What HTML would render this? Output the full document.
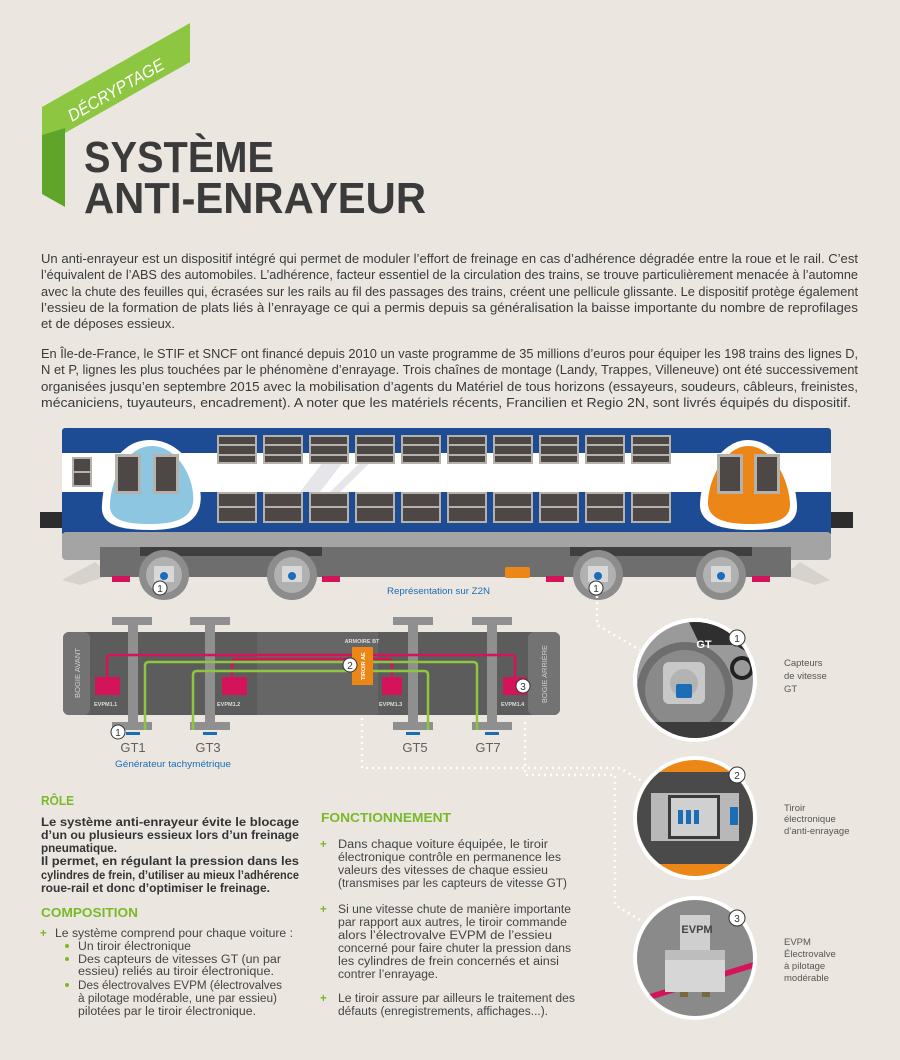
<!DOCTYPE html>
<html><head><meta charset="utf-8"><style>
html,body{margin:0;padding:0;background:#ebe7e0;}
svg{display:block;font-family:"Liberation Sans",sans-serif;}
</style></head><body>
<svg width="900" height="1060" viewBox="0 0 900 1060" xmlns="http://www.w3.org/2000/svg">
<rect width="900" height="1060" fill="#ebe7e0"/>
<polygon points="42,107 190,23 190,62 65,133 65,145 42,145" fill="#8dc641"/>
<polygon points="42,135 65,128 65,207 42,194" fill="#5fa52a"/>
<text x="0" y="0" transform="translate(72,122) rotate(-30)" font-size="17" font-style="italic" fill="#fff" textLength="108" lengthAdjust="spacingAndGlyphs">DÉCRYPTAGE</text>
<text x="84" y="172" font-size="44" font-weight="bold" fill="#3b3b3b" textLength="190" lengthAdjust="spacingAndGlyphs">SYSTÈME</text>
<text x="84" y="213" font-size="44" font-weight="bold" fill="#3b3b3b" textLength="342" lengthAdjust="spacingAndGlyphs">ANTI-ENRAYEUR</text>

<g font-size="13" fill="#3a3a3a">
<text x="41" y="263" textLength="817" lengthAdjust="spacingAndGlyphs">Un anti-enrayeur est un dispositif intégré qui permet de moduler l’effort de freinage en cas d’adhérence dégradée entre la roue et le rail. C’est</text>
<text x="41" y="279" textLength="817" lengthAdjust="spacingAndGlyphs">l’équivalent de l’ABS des automobiles. L’adhérence, facteur essentiel de la circulation des trains, se trouve particulièrement menacée à l’automne</text>
<text x="41" y="296" textLength="817" lengthAdjust="spacingAndGlyphs">avec la chute des feuilles qui, écrasées sur les rails au fil des passages des trains, créent une pellicule glissante. Le dispositif protège également</text>
<text x="41" y="312" textLength="817" lengthAdjust="spacingAndGlyphs">l’essieu de la formation de plats liés à l’enrayage ce qui a permis depuis sa généralisation la baisse importante du nombre de reprofilages</text>
<text x="41" y="328" textLength="134" lengthAdjust="spacingAndGlyphs">et de déposes essieux.</text>
<text x="41" y="358" textLength="817" lengthAdjust="spacingAndGlyphs">En Île-de-France, le STIF et SNCF ont financé depuis 2010 un vaste programme de 35 millions d’euros pour équiper les 198 trains des lignes D,</text>
<text x="41" y="374" textLength="817" lengthAdjust="spacingAndGlyphs">N et P, lignes les plus touchées par le phénomène d’enrayage. Trois chaînes de montage (Landy, Trappes, Villeneuve) ont été successivement</text>
<text x="41" y="391" textLength="817" lengthAdjust="spacingAndGlyphs">organisées jusqu’en septembre 2015 avec la mobilisation d’agents du Matériel de tous horizons (essayeurs, soudeurs, câbleurs, freinistes,</text>
<text x="41" y="407" textLength="810" lengthAdjust="spacingAndGlyphs">mécaniciens, tuyauteurs, encadrement). A noter que les matériels récents, Francilien et Regio 2N, sont livrés équipés du dispositif.</text>
</g>

<g>
<polygon points="62,580 95,562 110,575 80,585" fill="#d6d3ce"/>
<polygon points="830,580 800,562 785,575 815,585" fill="#d6d3ce"/>
<rect x="40" y="512" width="24" height="16" fill="#2d2d2d"/>
<rect x="829" y="512" width="24" height="16" fill="#2d2d2d"/>
<rect x="62" y="428" width="769" height="108" rx="3" fill="#1d4b94"/>
<rect x="62" y="453" width="769" height="39" fill="#ffffff"/>
<polygon points="300,492 330,453 350,453 320,492" fill="#e6e6ea"/>
<polygon points="330,492 370,453 380,453 340,492" fill="#e6e6ea"/>
<rect x="62" y="532" width="769" height="28" rx="4" fill="#a4a4a4"/>
<rect x="100" y="547" width="691" height="30" fill="#6e6e6e"/>
<rect x="140" y="547" width="182" height="9" fill="#3f3f3f"/>
<rect x="570" y="547" width="182" height="9" fill="#3f3f3f"/>
<rect x="72" y="457" width="20" height="30" fill="#b5b1ab"/>
<rect x="74" y="459" width="16" height="12" fill="#4d4845"/><rect x="74" y="473" width="16" height="12" fill="#4d4845"/>
<g fill="#b5b1ab">
<rect x="217" y="435" width="40" height="29"/><rect x="263" y="435" width="40" height="29"/><rect x="309" y="435" width="40" height="29"/><rect x="355" y="435" width="40" height="29"/><rect x="401" y="435" width="40" height="29"/><rect x="447" y="435" width="40" height="29"/><rect x="493" y="435" width="40" height="29"/><rect x="539" y="435" width="40" height="29"/><rect x="585" y="435" width="40" height="29"/><rect x="631" y="435" width="40" height="29"/>
<rect x="217" y="492" width="40" height="31"/><rect x="263" y="492" width="40" height="31"/><rect x="309" y="492" width="40" height="31"/><rect x="355" y="492" width="40" height="31"/><rect x="401" y="492" width="40" height="31"/><rect x="447" y="492" width="40" height="31"/><rect x="493" y="492" width="40" height="31"/><rect x="539" y="492" width="40" height="31"/><rect x="585" y="492" width="40" height="31"/><rect x="631" y="492" width="40" height="31"/>
</g>
<g fill="#4d4845">
<rect x="219" y="437" width="36" height="7"/><rect x="219" y="446" width="36" height="8"/><rect x="219" y="456" width="36" height="6"/>
<rect x="265" y="437" width="36" height="7"/><rect x="265" y="446" width="36" height="8"/><rect x="265" y="456" width="36" height="6"/>
<rect x="311" y="437" width="36" height="7"/><rect x="311" y="446" width="36" height="8"/><rect x="311" y="456" width="36" height="6"/>
<rect x="357" y="437" width="36" height="7"/><rect x="357" y="446" width="36" height="8"/><rect x="357" y="456" width="36" height="6"/>
<rect x="403" y="437" width="36" height="7"/><rect x="403" y="446" width="36" height="8"/><rect x="403" y="456" width="36" height="6"/>
<rect x="449" y="437" width="36" height="7"/><rect x="449" y="446" width="36" height="8"/><rect x="449" y="456" width="36" height="6"/>
<rect x="495" y="437" width="36" height="7"/><rect x="495" y="446" width="36" height="8"/><rect x="495" y="456" width="36" height="6"/>
<rect x="541" y="437" width="36" height="7"/><rect x="541" y="446" width="36" height="8"/><rect x="541" y="456" width="36" height="6"/>
<rect x="587" y="437" width="36" height="7"/><rect x="587" y="446" width="36" height="8"/><rect x="587" y="456" width="36" height="6"/>
<rect x="633" y="437" width="36" height="7"/><rect x="633" y="446" width="36" height="8"/><rect x="633" y="456" width="36" height="6"/>
<rect x="219" y="494" width="36" height="12"/><rect x="219" y="508" width="36" height="13"/>
<rect x="265" y="494" width="36" height="12"/><rect x="265" y="508" width="36" height="13"/>
<rect x="311" y="494" width="36" height="12"/><rect x="311" y="508" width="36" height="13"/>
<rect x="357" y="494" width="36" height="12"/><rect x="357" y="508" width="36" height="13"/>
<rect x="403" y="494" width="36" height="12"/><rect x="403" y="508" width="36" height="13"/>
<rect x="449" y="494" width="36" height="12"/><rect x="449" y="508" width="36" height="13"/>
<rect x="495" y="494" width="36" height="12"/><rect x="495" y="508" width="36" height="13"/>
<rect x="541" y="494" width="36" height="12"/><rect x="541" y="508" width="36" height="13"/>
<rect x="587" y="494" width="36" height="12"/><rect x="587" y="508" width="36" height="13"/>
<rect x="633" y="494" width="36" height="12"/><rect x="633" y="508" width="36" height="13"/>
</g>
<path d="M150,440 C185,440 205,480 200,505 C196,525 175,530 150,530 C120,530 100,525 102,505 C104,470 120,440 150,440Z" fill="#fff"/>
<path d="M152,446 C178,446 196,480 193,503 C190,520 172,524 150,524 C125,524 108,520 110,503 C112,475 128,446 152,446Z" fill="#8cc6e0"/>
<path d="M748,440 C775,440 795,470 797,505 C798,525 780,530 750,530 C725,530 700,525 700,505 C700,478 720,440 748,440Z" fill="#fff"/>
<path d="M748,446 C770,446 788,475 790,503 C791,520 775,524 750,524 C728,524 708,520 708,503 C708,480 725,446 748,446Z" fill="#ec8616"/>
<g fill="#b5b1ab"><rect x="115" y="454" width="26" height="40"/><rect x="153" y="454" width="26" height="40"/><rect x="717" y="454" width="26" height="40"/><rect x="754" y="454" width="26" height="40"/></g>
<g fill="#4d4845"><rect x="118" y="457" width="20" height="34"/><rect x="156" y="457" width="20" height="34"/><rect x="720" y="457" width="20" height="34"/><rect x="757" y="457" width="20" height="34"/></g>
<g>
<circle cx="164" cy="575" r="25" fill="#8c8c8c"/><circle cx="164" cy="575" r="18" fill="#b1b1b1"/><rect x="154" y="566" width="20" height="16" fill="#d8d8d8"/><circle cx="164" cy="576" r="4" fill="#1b6db5"/>
<circle cx="292" cy="575" r="25" fill="#8c8c8c"/><circle cx="292" cy="575" r="18" fill="#b1b1b1"/><rect x="282" y="566" width="20" height="16" fill="#d8d8d8"/><circle cx="292" cy="576" r="4" fill="#1b6db5"/>
<circle cx="598" cy="575" r="25" fill="#8c8c8c"/><circle cx="598" cy="575" r="18" fill="#b1b1b1"/><rect x="588" y="566" width="20" height="16" fill="#d8d8d8"/><circle cx="598" cy="576" r="4" fill="#1b6db5"/>
<circle cx="721" cy="575" r="25" fill="#8c8c8c"/><circle cx="721" cy="575" r="18" fill="#b1b1b1"/><rect x="711" y="566" width="20" height="16" fill="#d8d8d8"/><circle cx="721" cy="576" r="4" fill="#1b6db5"/>
</g>
<rect x="112" y="576" width="18" height="6" fill="#d4145a"/><rect x="322" y="576" width="18" height="6" fill="#d4145a"/>
<rect x="546" y="576" width="18" height="6" fill="#d4145a"/><rect x="752" y="576" width="18" height="6" fill="#d4145a"/>
<rect x="505" y="567" width="25" height="11" rx="2" fill="#ec8616"/>
<circle cx="160" cy="588" r="7" fill="#fff" stroke="#333" stroke-width="1"/><text x="160" y="592" font-size="10" text-anchor="middle" fill="#333">1</text>
<circle cx="596" cy="588" r="7" fill="#fff" stroke="#333" stroke-width="1"/><text x="596" y="592" font-size="10" text-anchor="middle" fill="#333">1</text>
<text x="387" y="594" font-size="9.5" fill="#1b6db5" textLength="103" lengthAdjust="spacingAndGlyphs">Représentation sur Z2N</text>
</g>

<g fill="none" stroke="#fff" stroke-width="2.5" stroke-dasharray="2,4">
<polyline points="597,596 597,625 640,650"/>
<polyline points="362,700 362,768 620,768 645,783"/>
<polyline points="525,722 525,775 615,775 615,905 640,920"/>
</g>

<g>
<rect x="63" y="632" width="497" height="83" rx="6" fill="#5c5c5c"/>
<rect x="63" y="632" width="27" height="83" rx="6" fill="#737373"/>
<rect x="528" y="632" width="32" height="83" rx="6" fill="#737373"/>
<rect x="257" y="632" width="121" height="83" fill="#666"/>
<text transform="translate(80,698) rotate(-90)" font-size="7.5" fill="#d0d0d0" textLength="50" lengthAdjust="spacingAndGlyphs">BOGIE AVANT</text>
<text transform="translate(547,703) rotate(-90)" font-size="7.5" fill="#d0d0d0" textLength="58" lengthAdjust="spacingAndGlyphs">BOGIE ARRIÈRE</text>
<g fill="#8f8f8f">
<rect x="128" y="617" width="10" height="113"/><rect x="205" y="617" width="10" height="113"/><rect x="408" y="617" width="10" height="113"/><rect x="487" y="617" width="10" height="113"/>
<rect x="112" y="617" width="40" height="8"/><rect x="112" y="722" width="40" height="8"/>
<rect x="190" y="617" width="40" height="8"/><rect x="190" y="722" width="40" height="8"/>
<rect x="393" y="617" width="40" height="8"/><rect x="393" y="722" width="40" height="8"/>
<rect x="472" y="617" width="40" height="8"/><rect x="472" y="722" width="40" height="8"/>
</g>
<g fill="#1b6db5"><rect x="126" y="732" width="14" height="3"/><rect x="203" y="732" width="14" height="3"/><rect x="406" y="732" width="14" height="3"/><rect x="485" y="732" width="14" height="3"/></g>
<g fill="none" stroke-width="2.5" stroke-linejoin="round">
<path d="M107,677 V659 Q107,655 111,655 H511 Q515,655 515,659 V677" stroke="#d4145a"/>
<path d="M232,677 V663 Q232,659 236,659 H388 Q392,659 392,663 V677" stroke="#d4145a"/>
<path d="M145,730 V666 Q145,662 149,662 H473 Q477,662 477,666 V730" stroke="#8dc63f"/>
<path d="M193,730 V675 Q193,671 197,671 H424 Q428,671 428,675 V730" stroke="#8dc63f"/>
</g>
<g fill="#d4145a"><rect x="95" y="677" width="25" height="18"/><rect x="222" y="677" width="25" height="18"/><rect x="382" y="677" width="20" height="18"/><rect x="503" y="677" width="24" height="18"/></g>
<g font-size="5.5" font-weight="bold" fill="#ddd"><text x="94" y="706">EVPM1.1</text><text x="217" y="706">EVPM1.2</text><text x="379" y="706">EVPM1.3</text><text x="501" y="706">EVPM1.4</text></g>
<rect x="352" y="647" width="21" height="38" fill="#ec8616"/>
<text transform="translate(365,680) rotate(-90)" font-size="5.5" font-weight="bold" fill="#fff">TIROIR AE</text>
<text x="362" y="643" font-size="5.5" font-weight="bold" fill="#ddd" text-anchor="middle">ARMOIRE BT</text>
<circle cx="350" cy="665" r="7" fill="#fff" stroke="#333"/><text x="350" y="669" font-size="10" text-anchor="middle" fill="#333">2</text>
<circle cx="523" cy="686" r="7" fill="#fff" stroke="#333"/><text x="523" y="690" font-size="10" text-anchor="middle" fill="#333">3</text>
<circle cx="118" cy="732" r="7" fill="#fff" stroke="#333"/><text x="118" y="736" font-size="10" text-anchor="middle" fill="#333">1</text>
<g font-size="13" fill="#606060" text-anchor="middle"><text x="133" y="752">GT1</text><text x="208" y="752">GT3</text><text x="415" y="752">GT5</text><text x="488" y="752">GT7</text></g>
<text x="115" y="767" font-size="9.5" fill="#1b6db5" textLength="116" lengthAdjust="spacingAndGlyphs">Générateur  tachymétrique</text>
</g>

<defs>
<clipPath id="c1"><circle cx="695" cy="680" r="58"/></clipPath>
<clipPath id="c2"><circle cx="695" cy="818" r="58"/></clipPath>
<clipPath id="c3"><circle cx="695" cy="958" r="58"/></clipPath>
</defs>
<circle cx="695" cy="680" r="62" fill="#fff"/>
<g clip-path="url(#c1)">
<rect x="630" y="620" width="130" height="120" fill="#9a9a9a"/>
<circle cx="685" cy="690" r="48" fill="#6e6e6e"/><circle cx="685" cy="690" r="40" fill="#8a8a8a"/>
<rect x="663" y="662" width="42" height="42" rx="6" fill="#c8c8c8"/><circle cx="684" cy="683" r="14" fill="#b3b3b3"/>
<rect x="676" y="684" width="16" height="14" rx="2" fill="#1b6db5"/>
<path d="M688,620 H760 V660 L735,645 H700 Z" fill="#2f2f2f"/>
<circle cx="742" cy="668" r="10" fill="none" stroke="#222" stroke-width="4"/>
<rect x="630" y="722" width="130" height="20" fill="#3c3c3c"/>
</g>
<text x="704" y="648" font-size="11" font-weight="bold" fill="#fff" text-anchor="middle">GT</text>
<circle cx="737" cy="638" r="8" fill="#fff" stroke="#333"/><text x="737" y="642" font-size="10" text-anchor="middle" fill="#333">1</text>

<circle cx="695" cy="818" r="62" fill="#fff"/>
<g clip-path="url(#c2)">
<rect x="630" y="755" width="130" height="130" fill="#ec8616"/>
<rect x="630" y="772" width="130" height="92" fill="#4a4a4a"/>
<rect x="651" y="793" width="88" height="48" fill="#b8b8b8"/>
<rect x="668" y="795" width="52" height="44" fill="#3a3a3a"/>
<rect x="671" y="798" width="46" height="38" fill="#d0d0d0"/>
<g fill="#1b6db5"><rect x="678" y="810" width="5" height="14"/><rect x="686" y="810" width="5" height="14"/><rect x="694" y="810" width="5" height="14"/><rect x="730" y="807" width="8" height="18"/></g>
</g>
<circle cx="737" cy="775" r="8" fill="#fff" stroke="#333"/><text x="737" y="779" font-size="10" text-anchor="middle" fill="#333">2</text>

<circle cx="695" cy="958" r="62" fill="#fff"/>
<g clip-path="url(#c3)">
<rect x="630" y="895" width="130" height="130" fill="#8a8a8a"/>
<polygon points="630,1000 760,960 760,966 630,1006" fill="#d4145a"/>
<rect x="700" y="915" width="10" height="20" fill="#d4145a"/>
<rect x="680" y="915" width="30" height="40" fill="#cfcfcf"/>
<rect x="665" y="960" width="60" height="32" fill="#d6d6d6"/>
<rect x="665" y="950" width="60" height="10" fill="#bdbdbd"/>
<rect x="680" y="992" width="8" height="5" fill="#7a6a3a"/><rect x="702" y="992" width="8" height="5" fill="#7a6a3a"/>
</g>
<text x="697" y="933" font-size="11" font-weight="bold" fill="#444" text-anchor="middle">EVPM</text>
<circle cx="737" cy="918" r="8" fill="#fff" stroke="#333"/><text x="737" y="922" font-size="10" text-anchor="middle" fill="#333">3</text>

<g font-size="9.5" fill="#555">
<text x="784" y="666">Capteurs</text><text x="784" y="679">de vitesse</text><text x="784" y="692">GT</text>
<text x="784" y="811">Tiroir</text><text x="784" y="822">électronique</text><text x="784" y="834">d’anti-enrayage</text>
<text x="784" y="945">EVPM</text><text x="784" y="957">Électrovalve</text><text x="784" y="969">à pilotage</text><text x="784" y="981">modérable</text>
</g>

<g font-weight="bold" fill="#7ab929" font-size="13">
<text x="41" y="805" textLength="33" lengthAdjust="spacingAndGlyphs">RÔLE</text>
<text x="41" y="917" textLength="97" lengthAdjust="spacingAndGlyphs">COMPOSITION</text>
<text x="321" y="822" textLength="130" lengthAdjust="spacingAndGlyphs">FONCTIONNEMENT</text>
</g>
<g font-size="11.5" font-weight="bold" fill="#333">
<text x="41" y="826" textLength="258" lengthAdjust="spacingAndGlyphs">Le système anti-enrayeur évite le blocage</text>
<text x="41" y="839" textLength="258" lengthAdjust="spacingAndGlyphs">d’un ou plusieurs essieux lors d’un freinage</text>
<text x="41" y="852" textLength="76" lengthAdjust="spacingAndGlyphs">pneumatique.</text>
<text x="41" y="865" textLength="258" lengthAdjust="spacingAndGlyphs">Il permet, en régulant la pression dans les</text>
<text x="41" y="879" textLength="258" lengthAdjust="spacingAndGlyphs">cylindres de frein, d’utiliser au mieux l’adhérence</text>
<text x="41" y="892" textLength="229" lengthAdjust="spacingAndGlyphs">roue-rail et donc d’optimiser le freinage.</text>
</g>
<g font-size="11.5" font-weight="bold" fill="#7ab929">
<text x="40" y="937">+</text><text x="320" y="848">+</text><text x="320" y="913">+</text><text x="320" y="1002">+</text>
</g>
<g fill="#7ab929"><circle cx="67" cy="946" r="2"/><circle cx="67" cy="959" r="2"/><circle cx="67" cy="985" r="2"/></g>
<g font-size="11.5" fill="#444">
<text x="55" y="937" textLength="238" lengthAdjust="spacingAndGlyphs">Le système comprend pour chaque voiture :</text>
<text x="78" y="950" textLength="113" lengthAdjust="spacingAndGlyphs">Un tiroir électronique</text>
<text x="78" y="963" textLength="203" lengthAdjust="spacingAndGlyphs">Des capteurs de vitesses GT (un par</text>
<text x="78" y="975" textLength="196" lengthAdjust="spacingAndGlyphs">essieu) reliés au tiroir électronique.</text>
<text x="78" y="989" textLength="204" lengthAdjust="spacingAndGlyphs">Des électrovalves EVPM (électrovalves</text>
<text x="78" y="1002" textLength="199" lengthAdjust="spacingAndGlyphs">à pilotage modérable, une par essieu)</text>
<text x="78" y="1015" textLength="178" lengthAdjust="spacingAndGlyphs">pilotées par le tiroir électronique.</text>
<text x="338" y="848" textLength="210" lengthAdjust="spacingAndGlyphs">Dans chaque voiture équipée, le tiroir</text>
<text x="338" y="861" textLength="223" lengthAdjust="spacingAndGlyphs">électronique contrôle en permanence les</text>
<text x="338" y="874" textLength="210" lengthAdjust="spacingAndGlyphs">valeurs des vitesses de chaque essieu</text>
<text x="338" y="887" textLength="229" lengthAdjust="spacingAndGlyphs">(transmises par les capteurs de vitesse GT)</text>
<text x="338" y="913" textLength="233" lengthAdjust="spacingAndGlyphs">Si une vitesse chute de manière importante</text>
<text x="338" y="926" textLength="229" lengthAdjust="spacingAndGlyphs">par rapport aux autres, le tiroir commande</text>
<text x="338" y="939" textLength="214" lengthAdjust="spacingAndGlyphs">alors l’électrovalve EVPM de l’essieu</text>
<text x="338" y="952" textLength="233" lengthAdjust="spacingAndGlyphs">concerné pour faire chuter la pression dans</text>
<text x="338" y="965" textLength="221" lengthAdjust="spacingAndGlyphs">les cylindres de frein concernés et ainsi</text>
<text x="338" y="978" textLength="100" lengthAdjust="spacingAndGlyphs">contrer l’enrayage.</text>
<text x="338" y="1002" textLength="237" lengthAdjust="spacingAndGlyphs">Le tiroir assure par ailleurs le traitement des</text>
<text x="338" y="1015" textLength="210" lengthAdjust="spacingAndGlyphs">défauts (enregistrements, affichages...).</text>
</g>
</svg>
</body></html>
